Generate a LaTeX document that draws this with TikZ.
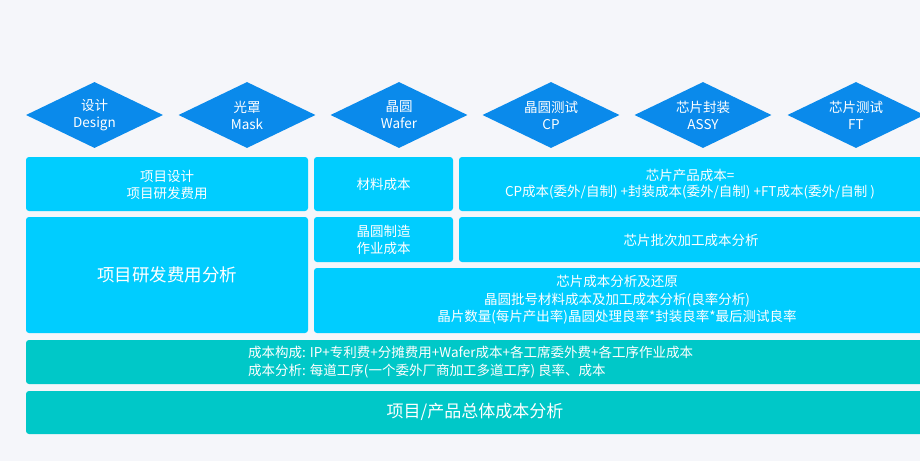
\documentclass[tikz,border=0pt]{standalone}
\usepackage{fontspec}
\setmainfont{Noto Sans CJK SC}
\usetikzlibrary{shapes.geometric}
\definecolor{bg}{HTML}{F5F6FA}
\definecolor{dia}{HTML}{0A8AEB}
\definecolor{cy}{HTML}{00CDFF}
\definecolor{tl}{HTML}{00C8C8}
\begin{document}
\begin{tikzpicture}[x=1pt,y=-1pt,
  dmd/.style={diamond, fill=dia, text=white, shape aspect=2.08, minimum width=137pt, minimum height=66pt, inner sep=0pt, align=center, font=\fontsize{13.5}{17}\selectfont},
  txt/.style={text=white, align=center, font=\fontsize{13.5}{16.5}\selectfont}
]
\fill[bg] (0,0) rectangle (920,461);
\useasboundingbox (0,0) rectangle (920,461);
% diamonds
\node[dmd] (d1) at (94.5,115) {设计\\Design};
\node[dmd] (d2) at (247,115) {光罩\\Mask};
\node[dmd] (d3) at (399,115) {晶圆\\Wafer};
\node[dmd] (d4) at (551,115) {晶圆测试\\CP};
\node[dmd] (d5) at (703,115) {芯片封装\\ASSY};
\node[dmd] (d6) at (856,115) {芯片测试\\FT};
% row 1
\fill[cy, rounded corners=3pt] (26,157) rectangle (308,211);
\node[txt] (a1) at (167,185) {项目设计\\项目研发费用};
\fill[cy, rounded corners=3pt] (314,157) rectangle (453,211);
\node[txt] (b1) at (383.5,184) {材料成本};
\fill[cy, rounded corners=3pt] (459,157) rectangle (930,211);
\node[txt] (c1) at (690,184) {芯片产品成本=\\CP成本(委外/自制) +封装成本(委外/自制) +FT成本(委外/自制 )};
% row 2
\fill[cy, rounded corners=3pt] (26,217) rectangle (308,333);
\node[text=white, font=\fontsize{17.5}{21}\selectfont] (a2) at (167,275) {项目研发费用分析};
\fill[cy, rounded corners=3pt] (314,217) rectangle (453,262);
\node[txt] (b2) at (383.5,240) {晶圆制造\\作业成本};
\fill[cy, rounded corners=3pt] (459,217) rectangle (930,262);
\node[txt] (c2) at (691,240) {芯片批次加工成本分析};
\fill[cy, rounded corners=3pt] (314,268) rectangle (930,333);
\node[txt, font=\fontsize{13.5}{17.5}\selectfont] (b3) at (617,300) {芯片成本分析及还原\\晶圆批号材料成本及加工成本分析(良率分析)\\晶片数量(每片产出率)晶圆处理良率*封装良率*最后测试良率};
% row 3
\fill[tl, rounded corners=3pt] (26,340) rectangle (930,384);
\node[text=white, align=left, anchor=west, inner sep=0pt, font=\fontsize{13.5}{18}\selectfont] (r3) at (248,362) {成本构成: IP+专利费+分摊费用+Wafer成本+各工席委外费+各工序作业成本\\成本分析: 每道工序(一个委外厂商加工多道工序) 良率、成本};
% row 4
\fill[tl, rounded corners=3pt] (26,391) rectangle (930,434);
\node[text=white, font=\fontsize{17}{20}\selectfont] (r4) at (475,412) {项目/产品总体成本分析};
\end{tikzpicture}
\end{document}
